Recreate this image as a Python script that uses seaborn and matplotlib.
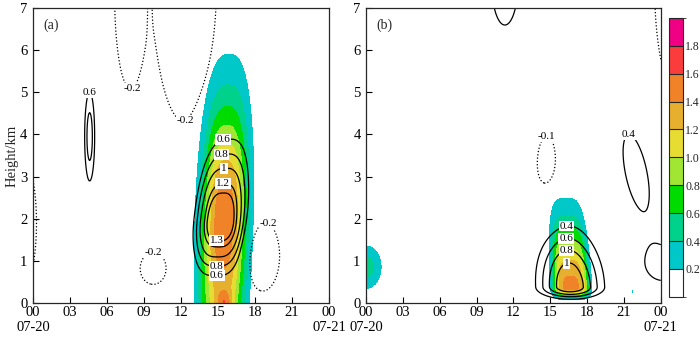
import numpy as np
import seaborn as sns
import matplotlib.pyplot as plt
from matplotlib.colors import BoundaryNorm, ListedColormap

#=====================================================
# Data
#=====================================================
# Each field is a sum of smooth blobs:
# (hour, km, peak, spread_hour, spread_km_below, spread_km_above, tilt hour/km, shape)
fill_a = [(15.5, 2.0, 1.55, 1.37, 2.60, 1.93, 0.10, 2.6),
          (15.5, 0.0, 0.45, 0.45, 0.20, 0.20, 0.00, 2.0)]
line_a = [(15.2, 1.92, 1.45, 1.80, 0.96, 1.49, 0.30, 3.0),
          (4.6, 3.95, 0.90, 0.45, 1.17, 1.17, 0.00, 2.0),
          (7.9, 7.3, -1.00, 0.71, 1.23, 1.23, 0.00, 2.0),
          (12.3, 7.6, -1.00, 1.44, 1.84, 1.84, 0.00, 2.0),
          (9.45, 7.5, 0.12, 0.12, 1.00, 1.00, 0.00, 2.0),
          (-0.7, 1.9, -0.30, 1.10, 1.60, 1.60, 0.00, 2.0),
          (9.75, 0.82, -0.30, 1.17, 0.42, 0.42, 0.00, 2.0),
          (18.6, 1.12, -0.82, 0.83, 0.50, 0.50, 0.00, 2.0)]
fill_b = [(16.7, 0.35, 1.45, 1.20, 0.14, 1.07, -0.20, 4.0),
          (0.0, 0.85, 0.50, 0.90, 0.37, 0.37, 0.00, 2.0),
          (21.7, 0.27, 0.22, 0.10, 0.05, 0.05, 0.00, 2.0)]
line_b = [(16.6, 0.38, 1.18, 1.90, 0.20, 1.00, -0.20, 2.0),
          (14.7, 3.15, -0.15, 1.00, 0.95, 0.95, 0.00, 2.0),
          (22.0, 3.10, 0.60, 1.00, 1.00, 1.00, -0.65, 2.0),
          (24.3, 0.90, 0.50, 1.90, 0.50, 0.50, 0.00, 2.0),
          (11.3, 7.60, 0.50, 1.60, 1.50, 1.50, 0.00, 2.0),
          (25.5, 7.50, -0.20, 1.70, 2.20, 2.20, 0.00, 2.0)]

# contour levels and where their labels sit (hour, km, level)
shade_levels = [0.2, 0.4, 0.6, 0.8, 1.0, 1.2, 1.4, 1.6, 1.8]
levels_a = [-0.2, 0.6, 0.8, 1.0, 1.2, 1.3]
levels_b = [-0.1, 0.4, 0.6, 0.8, 1.0]
labels_a = [(4.6, 5.0, 0.6), (15.4, 3.9, 0.6), (15.4, 3.4, 0.8), (15.5, 3.08, 1.0),
            (15.4, 2.76, 1.2), (14.85, 1.3, 1.3), (14.9, 0.9, 0.8), (14.9, 0.64, 0.6),
            (8.1, 5.1, -0.2), (12.4, 4.3, -0.2), (9.8, 1.2, -0.2), (19.2, 1.95, -0.2)]
labels_b = [(16.3, 1.85, 0.4), (16.3, 1.54, 0.6), (16.3, 1.26, 0.8), (16.3, 0.96, 1.0),
            (21.4, 4.05, 0.4), (14.7, 4.0, -0.1)]

hour_ticks = [0, 3, 6, 9, 12, 15, 18, 21, 24]
hour_labels = ['00\n07-20', '03', '06', '09', '12', '15', '18', '21', '00\n07-21']
shade_colors = ['#00c8c8', '#00d28c', '#00dc00', '#a0e632', '#e6dc32',
                '#e6af2d', '#f08228', '#fa3c3c', '#f00082']

#-----------------------------------------------------
# Build gridded fields
#-----------------------------------------------------
hours = np.linspace(0, 24, 481)
kms = np.linspace(0, 7, 281)
H, Z = np.meshgrid(hours, kms)

def make_field(blobs):
    f = np.zeros_like(H)
    for x0, z0, amp, sx, szlo, szhi, tilt, px in blobs:
        dz = Z - z0
        sz = np.where(dz > 0, szhi, szlo)
        dx = H - (x0 + tilt * dz)
        f += amp * np.exp(-0.5 * (np.abs(dx / sx) ** px + (dz / sz) ** 2))
    return f

#-----------------------------------------------------
# Plot
#-----------------------------------------------------
sns.set_style('ticks')
plt.rcParams['font.family'] = ['Liberation Serif', 'DejaVu Serif']
plt.rcParams['axes.linewidth'] = 0.9

f = plt.figure(figsize=(7, 3.37), dpi=100)
ax_a = f.add_axes([0.047, 0.101, 0.423, 0.875])
ax_b = f.add_axes([0.523, 0.101, 0.421, 0.875])
cax = f.add_axes([0.956, 0.119, 0.020, 0.828])

panels = [(ax_a, fill_a, line_a, levels_a, labels_a, '(a)'),
          (ax_b, fill_b, line_b, levels_b, labels_b, '(b)')]

for ax, fb, lb, levels, labs, tag in panels:
    shade = make_field(fb)
    lines = make_field(lb)
    ax.contourf(H, Z, shade, levels=shade_levels + [10], colors=shade_colors)
    # one contour set per level so labels can be placed level by level
    sets = {}
    for lev in levels:
        sets[lev] = ax.contour(H, Z, lines, levels=[lev], colors='k',
                               linewidths=0.9,
                               linestyles='dotted' if lev < 0 else 'solid')
    for x, z, lev in labs:
        # white boxed labels drawn over the line (no gap cut)
        txt = ax.clabel(sets[lev], manual=[(x, z)], inline=False,
                        fmt='%g', fontsize=8)
        for t in txt:
            t.set_rotation(0)
            t.set_zorder(5)
            t.set_bbox(dict(boxstyle='square,pad=0.08', fc='white', ec='none'))
    ax.text(1.5, 6.6, tag, fontsize=10, ha='center', va='center')
    ax.set_xlim(0, 24)
    ax.set_ylim(0, 7)
    ax.set_xticks(hour_ticks)
    ax.set_xticklabels(hour_labels)
    ax.set_yticks(range(8))
    ax.tick_params(direction='in', length=4, width=0.8, labelsize=10.5,
                   colors='k', pad=2)
    ax.tick_params(axis='y', pad=4)

ax_a.set_ylabel('Height/km', fontsize=10.5, labelpad=1)

# Colorbar with white lowest box
bounds = [0.0] + shade_levels + [2.0]
cb_cmap = ListedColormap(sns.color_palette(['white'] + shade_colors))
norm = BoundaryNorm(bounds, cb_cmap.N)
sm = plt.cm.ScalarMappable(norm=norm, cmap=cb_cmap)
cb = f.colorbar(sm, cax=cax, ticks=shade_levels, drawedges=True,
                spacing='uniform')
cb.ax.set_yticklabels(['%.1f' % v for v in shade_levels])
cb.ax.tick_params(length=0, labelsize=8.5, pad=1.5)
cb.outline.set_linewidth(0.8)
cb.dividers.set_linewidth(0.8)

plt.savefig('out.png', dpi=100)
